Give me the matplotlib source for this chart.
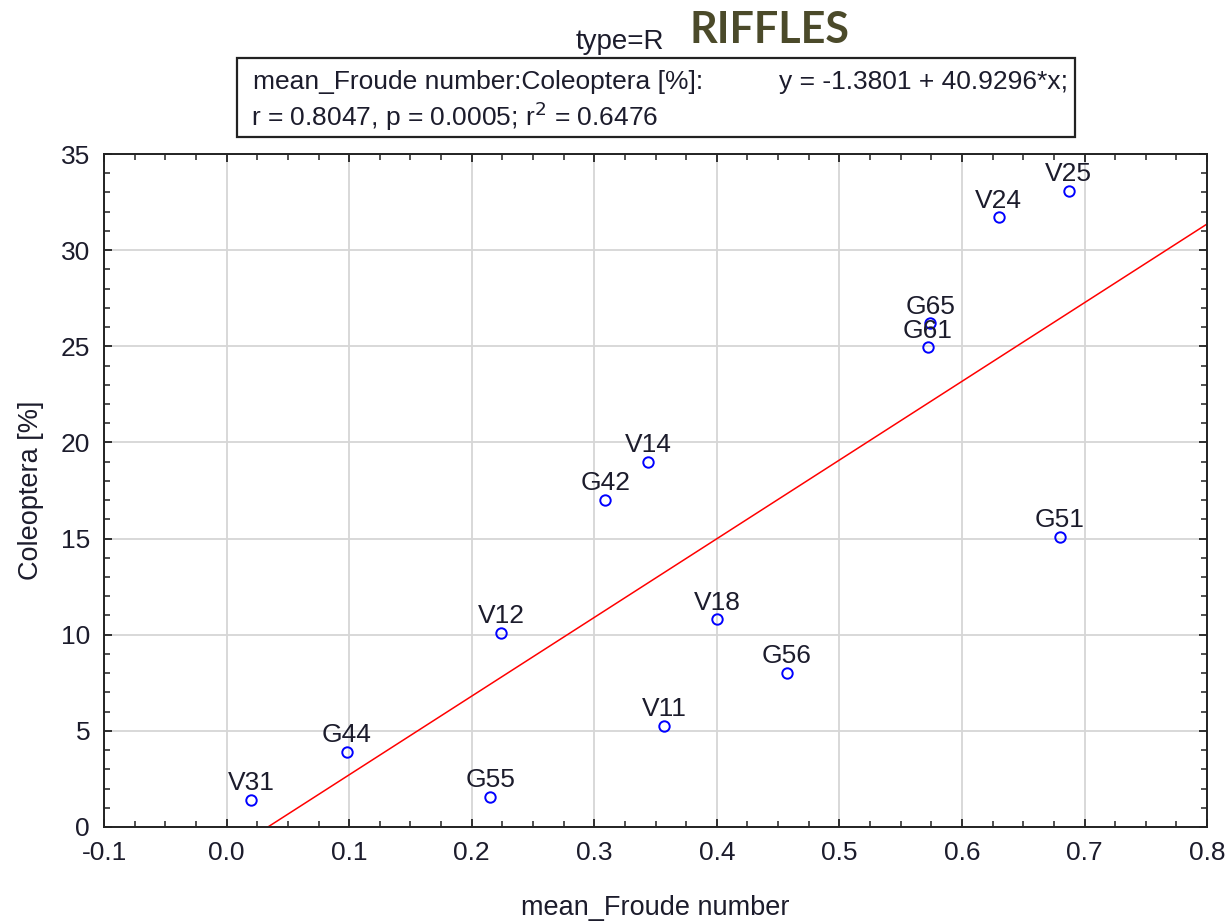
import matplotlib
matplotlib.use("Agg")
import matplotlib.pyplot as plt
from matplotlib.ticker import MultipleLocator, FormatStrFormatter
from matplotlib.patches import Rectangle

plt.rcParams['font.family'] = ['Liberation Sans', 'DejaVu Sans']

# sites: mean Froude number vs Coleoptera share
sites = ["V31", "G44", "G55", "V12", "G42", "V14", "V11", "V18",
         "G56", "G61", "G65", "V24", "G51", "V25"]
froude = [0.020, 0.098, 0.215, 0.224, 0.309, 0.344, 0.357, 0.400,
          0.457, 0.572, 0.574, 0.630, 0.680, 0.687]
coleoptera = [1.40, 3.90, 1.56, 10.1, 17.0, 19.0, 5.25, 10.8,
              8.0, 24.95, 26.2, 31.7, 15.1, 33.1]

intercept = -1.3801
slope = 40.9296

ink = "#1c1c2c"
fs = 19

fig = plt.figure(figsize=(12.28, 9.24), dpi=100)
ax = fig.add_axes([0.0847, 0.105, 0.8983, 0.7283])

ax.set_xlim(-0.1, 0.8)
ax.set_ylim(0, 35)

# fitted line, clipped to the axes
xl = [-0.1, 0.8]
yl = [intercept + slope * v for v in xl]
ax.plot(xl, yl, color="red", lw=1.1, zorder=2)

ax.plot(froude, coleoptera, "o", mfc="none", mec="blue", ms=7.5, mew=1.4, zorder=3)
for s, x, y in zip(sites, froude, coleoptera):
    ax.annotate(s, (x, y), xytext=(0, 7), textcoords="offset points",
                ha="center", va="baseline", fontsize=fs, color=ink)

ax.xaxis.set_major_locator(MultipleLocator(0.1))
ax.xaxis.set_minor_locator(MultipleLocator(0.025))
ax.yaxis.set_major_locator(MultipleLocator(5))
ax.yaxis.set_minor_locator(MultipleLocator(1))
ax.xaxis.set_major_formatter(FormatStrFormatter("%.1f"))
ax.tick_params(which="both", direction="in", top=True, right=True,
               labelsize=fs, labelcolor=ink, color="#222222")
ax.tick_params(which="major", length=6, width=1.3, pad=10)
ax.tick_params(which="minor", length=4, width=1.1)
ax.grid(which="major", color="#d6d6d6", lw=1.3)
ax.set_axisbelow(True)
for sp in ax.spines.values():
    sp.set_linewidth(1.4)
    sp.set_color("#222222")

ax.set_xlabel("mean_Froude number", fontsize=fs + 0.5, color=ink, labelpad=22)
ax.set_ylabel("Coleoptera [%]", fontsize=fs + 0.5, color=ink, labelpad=12)

fig.text(0.505, 0.955, "type=R", fontsize=fs + 1, ha="center", va="center", color=ink)
fig.text(0.627, 0.968, "RIFFLES", fontsize=31, fontweight="bold", ha="center",
         va="center", color="#4b4a2a", family=["Lato", "DejaVu Sans"])

# statistics box above the plot
fig.patches.append(Rectangle((237 / 1228, 1 - 137 / 924), (1075 - 237) / 1228,
                             (137 - 58) / 924, transform=fig.transFigure,
                             fc="white", ec="#222222", lw=1.6))
fig.text(253 / 1228, 1 - 82 / 924, "mean_Froude number:Coleoptera [%]:",
         fontsize=fs, ha="left", va="center", color=ink)
fig.text(1068 / 1228, 1 - 82 / 924, "y = -1.3801 + 40.9296*x;",
         fontsize=fs, ha="right", va="center", color=ink)
fig.text(251 / 1228, 1 - 116 / 924, "r = 0.8047, p = 0.0005; r$^2$ = 0.6476",
         fontsize=fs, ha="left", va="center", color=ink)

fig.savefig("out.png", dpi=100)
